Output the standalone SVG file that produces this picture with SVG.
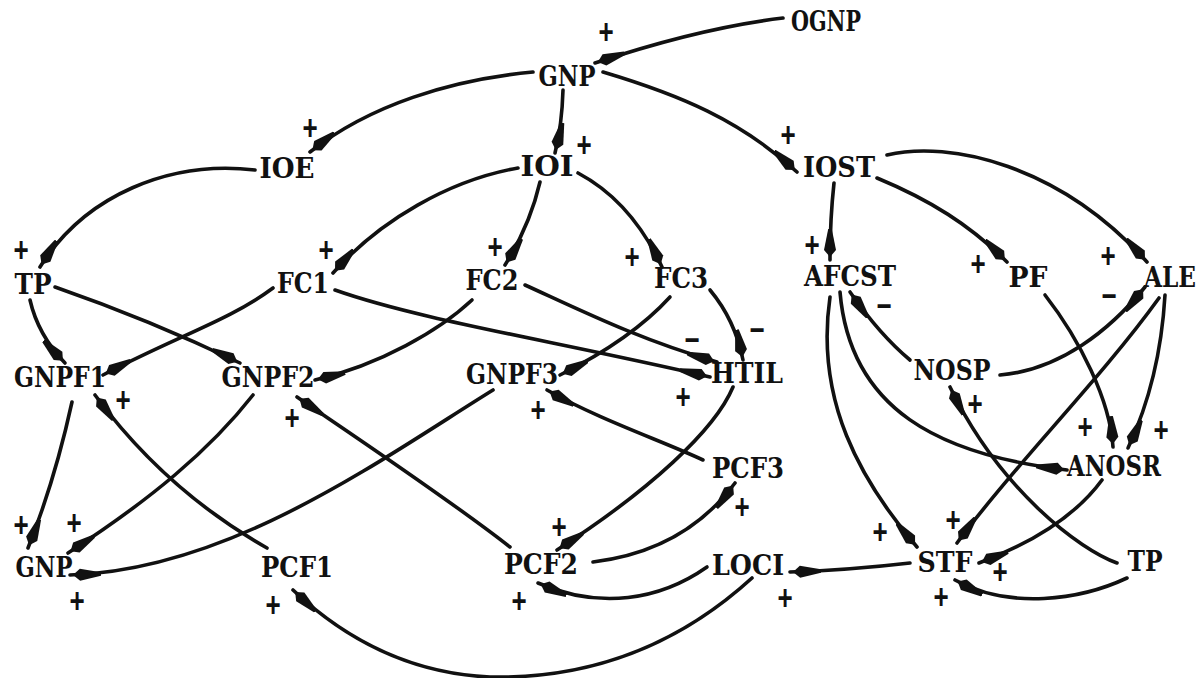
<svg xmlns="http://www.w3.org/2000/svg" width="1197" height="678" viewBox="0 0 1197 678">
<style>
.lbl{font-family:"DejaVu Serif","Liberation Serif",serif;font-stretch:condensed;font-weight:bold;font-size:27px;fill:#111;text-anchor:middle}
.pol{font-family:"Liberation Sans",Arial,sans-serif;font-weight:bold;font-size:26px;fill:#111;text-anchor:middle}
.e{fill:none;stroke:#111;stroke-width:3.6;stroke-linecap:round}
</style>
<defs>
<marker id="ah" markerUnits="userSpaceOnUse" markerWidth="40" markerHeight="16" viewBox="0 -8 40 16" refX="31" refY="0" orient="auto">
<path d="M0,-1.8 L21,-6 L28,0 L21,6 L0,1.8 Z" fill="#111"/>
</marker>
</defs>
<rect width="1197" height="678" fill="#fff"/>
<g id="connectors">
<path class="e" marker-end="url(#ah)" d="M783,18 Q700,28 595,63"/>
<path class="e" marker-end="url(#ah)" d="M533,72 C450,80 370,105 310,152"/>
<path class="e" marker-end="url(#ah)" d="M563,90 Q562,125 555,153"/>
<path class="e" marker-end="url(#ah)" d="M603,72 C680,95 740,120 797,172"/>
<path class="e" marker-end="url(#ah)" d="M255,170 C170,160 85,195 40,267"/>
<path class="e" marker-end="url(#ah)" d="M518,168 C450,180 380,220 333,273"/>
<path class="e" marker-end="url(#ah)" d="M540,182 Q530,225 505,265"/>
<path class="e" marker-end="url(#ah)" d="M578,173 C610,190 640,220 662,267"/>
<path class="e" marker-end="url(#ah)" d="M834,183 Q830,220 830,260"/>
<path class="e" marker-end="url(#ah)" d="M877,178 C930,200 970,225 1007,262"/>
<path class="e" marker-end="url(#ah)" d="M887,155 C950,140 1060,165 1147,262"/>
<path class="e" marker-end="url(#ah)" d="M30,300 Q38,335 65,363"/>
<path class="e" marker-end="url(#ah)" d="M55,287 Q150,320 240,363"/>
<path class="e" marker-end="url(#ah)" d="M273,288 C230,320 180,335 103,375"/>
<path class="e" marker-end="url(#ah)" d="M335,290 C420,320 550,340 710,377"/>
<path class="e" marker-end="url(#ah)" d="M472,300 C440,330 380,365 315,380"/>
<path class="e" marker-end="url(#ah)" d="M525,285 C580,310 640,340 717,362"/>
<path class="e" marker-end="url(#ah)" d="M670,297 C640,330 600,355 560,375"/>
<path class="e" marker-end="url(#ah)" d="M710,290 Q735,320 743,360"/>
<path class="e" marker-end="url(#ah)" d="M72,402 Q55,480 28,548"/>
<path class="e" marker-end="url(#ah)" d="M267,548 Q165,490 95,395"/>
<path class="e" marker-end="url(#ah)" d="M253,395 C210,450 150,500 68,553"/>
<path class="e" marker-end="url(#ah)" d="M493,390 C380,460 230,570 70,575"/>
<path class="e" marker-end="url(#ah)" d="M510,547 C450,500 360,440 297,397"/>
<path class="e" marker-end="url(#ah)" d="M703,460 C660,440 600,420 547,390"/>
<path class="e" marker-end="url(#ah)" d="M733,387 C715,430 650,490 557,550"/>
<path class="e" marker-end="url(#ah)" d="M593,562 C650,555 700,530 735,483"/>
<path class="e" marker-end="url(#ah)" d="M707,567 C660,600 600,610 538,583"/>
<path class="e" marker-end="url(#ah)" d="M752,578 Q640,680 490,677 Q380,672 293,590"/>
<path class="e" marker-end="url(#ah)" d="M910,563 Q850,570 790,572"/>
<path class="e" marker-end="url(#ah)" d="M1127,578 C1080,600 1010,610 955,580"/>
<path class="e" marker-end="url(#ah)" d="M1117,563 C1080,550 1000,490 950,387"/>
<path class="e" marker-end="url(#ah)" d="M1159,298 C1100,380 1010,470 957,543"/>
<path class="e" marker-end="url(#ah)" d="M1165,295 Q1160,380 1128,448"/>
<path class="e" marker-end="url(#ah)" d="M1045,295 C1080,340 1110,400 1113,447"/>
<path class="e" marker-end="url(#ah)" d="M840,292 C850,410 940,455 1067,470"/>
<path class="e" marker-end="url(#ah)" d="M830,297 C815,400 860,480 917,547"/>
<path class="e" marker-end="url(#ah)" d="M1102,480 C1080,510 1040,540 979,563"/>
<path class="e" marker-end="url(#ah)" d="M910,360 Q880,335 850,292"/>
<path class="e" marker-end="url(#ah)" d="M1000,375 C1060,370 1110,330 1145,287"/>
</g>
<g id="polarities">
<text class="pol" transform="translate(606,32) scale(1,1.35)" y="9">+</text>
<text class="pol" transform="translate(310,128) scale(1,1.35)" y="9">+</text>
<text class="pol" transform="translate(584,145) scale(1,1.35)" y="9">+</text>
<text class="pol" transform="translate(788,135) scale(1,1.35)" y="9">+</text>
<text class="pol" transform="translate(21,250) scale(1,1.35)" y="9">+</text>
<text class="pol" transform="translate(326,250) scale(1,1.35)" y="9">+</text>
<text class="pol" transform="translate(495,247) scale(1,1.35)" y="9">+</text>
<text class="pol" transform="translate(632,257) scale(1,1.35)" y="9">+</text>
<text class="pol" transform="translate(812,245) scale(1,1.35)" y="9">+</text>
<text class="pol" transform="translate(978,264) scale(1,1.35)" y="9">+</text>
<text class="pol" transform="translate(1108,256) scale(1,1.35)" y="9">+</text>
<text class="pol" transform="translate(123,400) scale(1,1.35)" y="9">+</text>
<text class="pol" transform="translate(292,418) scale(1,1.35)" y="9">+</text>
<text class="pol" transform="translate(538,410) scale(1,1.35)" y="9">+</text>
<text class="pol" transform="translate(683,397) scale(1,1.35)" y="9">+</text>
<text class="pol" transform="translate(975,404) scale(1,1.35)" y="9">+</text>
<text class="pol" transform="translate(1085,427) scale(1,1.35)" y="9">+</text>
<text class="pol" transform="translate(1161,430) scale(1,1.35)" y="9">+</text>
<text class="pol" transform="translate(21,525) scale(1,1.35)" y="9">+</text>
<text class="pol" transform="translate(74,523) scale(1,1.35)" y="9">+</text>
<text class="pol" transform="translate(77,601) scale(1,1.35)" y="9">+</text>
<text class="pol" transform="translate(273,605) scale(1,1.35)" y="9">+</text>
<text class="pol" transform="translate(559,527) scale(1,1.35)" y="9">+</text>
<text class="pol" transform="translate(519,601) scale(1,1.35)" y="9">+</text>
<text class="pol" transform="translate(742,507) scale(1,1.35)" y="9">+</text>
<text class="pol" transform="translate(785,598) scale(1,1.35)" y="9">+</text>
<text class="pol" transform="translate(880,532) scale(1,1.35)" y="9">+</text>
<text class="pol" transform="translate(953,520) scale(1,1.35)" y="9">+</text>
<text class="pol" transform="translate(1000,572) scale(1,1.35)" y="9">+</text>
<text class="pol" transform="translate(941,597) scale(1,1.35)" y="9">+</text>
<text class="pol" transform="translate(692,340) scale(1,1.35)" y="9">−</text>
<text class="pol" transform="translate(757,330) scale(1,1.35)" y="9">−</text>
<text class="pol" transform="translate(884,306) scale(1,1.35)" y="9">−</text>
<text class="pol" transform="translate(1109,296) scale(1,1.35)" y="9">−</text>
</g>
<g id="n-OGNP"><text class="lbl" x="826" y="31" textLength="70" lengthAdjust="spacingAndGlyphs">OGNP</text></g>
<g id="n-GNP-top"><text class="lbl" x="567" y="86" textLength="57" lengthAdjust="spacingAndGlyphs">GNP</text></g>
<g id="n-IOE"><text class="lbl" x="287" y="178" textLength="55" lengthAdjust="spacingAndGlyphs">IOE</text></g>
<g id="n-IOI"><text class="lbl" x="547" y="176" textLength="53" lengthAdjust="spacingAndGlyphs">IOI</text></g>
<g id="n-IOST"><text class="lbl" x="839" y="177" textLength="72" lengthAdjust="spacingAndGlyphs">IOST</text></g>
<g id="n-TP-left"><text class="lbl" x="33" y="294" textLength="37" lengthAdjust="spacingAndGlyphs">TP</text></g>
<g id="n-FC1"><text class="lbl" x="303" y="293" textLength="52" lengthAdjust="spacingAndGlyphs">FC1</text></g>
<g id="n-FC2"><text class="lbl" x="492" y="290" textLength="53" lengthAdjust="spacingAndGlyphs">FC2</text></g>
<g id="n-FC3"><text class="lbl" x="681" y="288" textLength="54" lengthAdjust="spacingAndGlyphs">FC3</text></g>
<g id="n-AFCST"><text class="lbl" x="850" y="286" textLength="92" lengthAdjust="spacingAndGlyphs">AFCST</text></g>
<g id="n-PF"><text class="lbl" x="1028" y="287" textLength="39" lengthAdjust="spacingAndGlyphs">PF</text></g>
<g id="n-ALE"><text class="lbl" x="1170" y="287" textLength="52" lengthAdjust="spacingAndGlyphs">ALE</text></g>
<g id="n-GNPF1"><text class="lbl" x="60" y="387" textLength="92" lengthAdjust="spacingAndGlyphs">GNPF1</text></g>
<g id="n-GNPF2"><text class="lbl" x="268" y="387" textLength="93" lengthAdjust="spacingAndGlyphs">GNPF2</text></g>
<g id="n-GNPF3"><text class="lbl" x="512" y="384" textLength="92" lengthAdjust="spacingAndGlyphs">GNPF3</text></g>
<g id="n-HTIL"><text class="lbl" x="747" y="383" textLength="72" lengthAdjust="spacingAndGlyphs">HTIL</text></g>
<g id="n-NOSP"><text class="lbl" x="952" y="380" textLength="77" lengthAdjust="spacingAndGlyphs">NOSP</text></g>
<g id="n-PCF3"><text class="lbl" x="748" y="478" textLength="72" lengthAdjust="spacingAndGlyphs">PCF3</text></g>
<g id="n-ANOSR"><text class="lbl" x="1114" y="476" textLength="94" lengthAdjust="spacingAndGlyphs">ANOSR</text></g>
<g id="n-GNP-bottom"><text class="lbl" x="44" y="577" textLength="57" lengthAdjust="spacingAndGlyphs">GNP</text></g>
<g id="n-PCF1"><text class="lbl" x="297" y="577" textLength="72" lengthAdjust="spacingAndGlyphs">PCF1</text></g>
<g id="n-PCF2"><text class="lbl" x="541" y="574" textLength="74" lengthAdjust="spacingAndGlyphs">PCF2</text></g>
<g id="n-LOCI"><text class="lbl" x="748" y="575" textLength="72" lengthAdjust="spacingAndGlyphs">LOCI</text></g>
<g id="n-STF"><text class="lbl" x="945" y="572" textLength="55" lengthAdjust="spacingAndGlyphs">STF</text></g>
<g id="n-TP-right"><text class="lbl" x="1145" y="571" textLength="35" lengthAdjust="spacingAndGlyphs">TP</text></g>
</svg>
